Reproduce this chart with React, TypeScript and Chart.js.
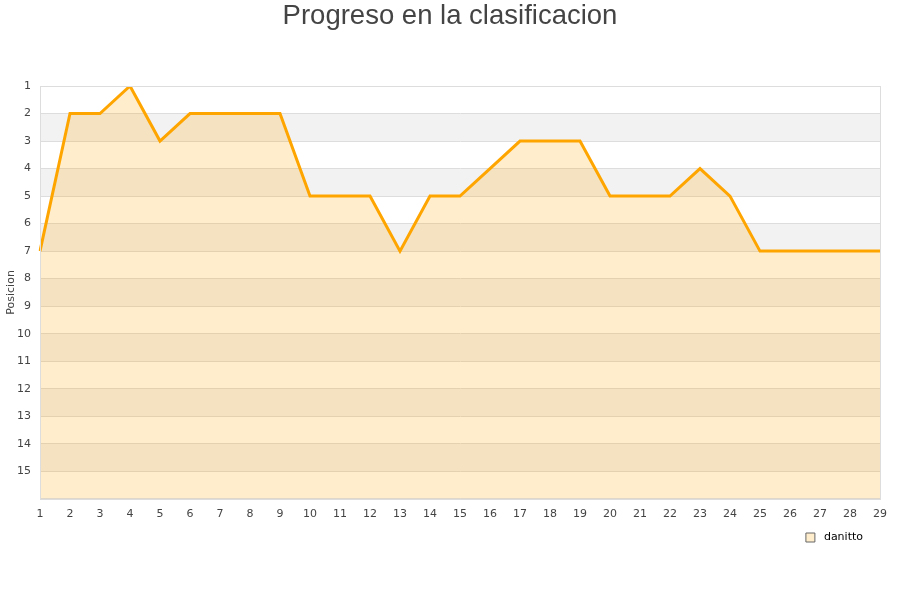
import React, { useEffect, useRef } from "react";
import { Chart, registerables } from "chart.js";

Chart.register(...registerables);

const titleText = "Progreso en la clasificacion";
const rounds = ["1","2","3","4","5","6","7","8","9","10","11","12","13","14","15","16","17","18","19","20","21","22","23","24","25","26","27","28","29"];
const positions = [7,2,2,1,3,2,2,2,2,5,5,5,7,5,5,4,3,3,3,5,5,5,4,5,7,7,7,7,7];
const seriesName = "danitto";
const yMin = 1;
const yMax = 16;
const bandStarts = [2,4,6,8,10,12,14];

const bandsPlugin = {
  id: "bands",
  beforeDraw(chart: any) {
    const { ctx, chartArea, scales } = chart;
    const y = scales.y;
    ctx.save();
    ctx.fillStyle = "#f2f2f2";
    for (const b of bandStarts) {
      const y1 = y.getPixelForValue(b);
      const y2 = y.getPixelForValue(b + 1);
      ctx.fillRect(chartArea.left, Math.min(y1, y2), chartArea.right - chartArea.left, Math.abs(y2 - y1));
    }
    ctx.restore();
  },
  afterDraw(chart: any) {
    const { ctx, chartArea } = chart;
    ctx.save();
    ctx.strokeStyle = "#dddddd";
    ctx.lineWidth = 1;
    ctx.strokeRect(Math.round(chartArea.left) + 0.5, Math.round(chartArea.top) + 0.5, Math.round(chartArea.right - chartArea.left), Math.round(chartArea.bottom - chartArea.top));
    ctx.fillStyle = "#444444";
    ctx.font = "27.5px 'Liberation Sans', Arial, sans-serif";
    ctx.textAlign = "center";
    ctx.textBaseline = "middle";
    ctx.fillText(titleText, chart.width / 2, 16);
    ctx.restore();
  },
};

export default function App() {
  const ref = useRef<HTMLCanvasElement>(null);
  useEffect(() => {
    if (!ref.current) return;
    const chart = new Chart(ref.current, {
      type: "line",
      data: {
        labels: rounds,
        datasets: [
          {
            label: seriesName,
            data: positions,
            borderColor: "#FFA500",
            backgroundColor: "rgba(255,165,0,0.2)",
            borderWidth: 3,
            pointRadius: 0,
            tension: 0,
            fill: { value: yMax },
          },
        ],
      },
      options: {
        animation: false,
        responsive: true,
        maintainAspectRatio: false,
        layout: { padding: { left: 0, right: 20, top: 86, bottom: 47 } },
        plugins: {
          title: { display: false },
          legend: {
            position: "bottom",
            align: "end",
            labels: {
              color: "#000000",
              boxWidth: 9,
              boxHeight: 9,
              padding: 10,
              font: { family: "'DejaVu Sans', sans-serif", size: 11 },
              generateLabels: () => [
                {
                  text: " " + seriesName + "  ",
                  fillStyle: "rgba(255,165,0,0.2)",
                  strokeStyle: "#666666",
                  lineWidth: 1,
                  datasetIndex: 0,
                  hidden: false,
                },
              ],
            },
          },
          tooltip: { enabled: false },
        },
        scales: {
          x: {
            offset: false,
            grid: { display: false },
            border: { display: true, color: "#dddddd" },
            ticks: {
              color: "#444444",
              maxRotation: 0,
              autoSkip: false,
              padding: 1,
              font: { family: "'DejaVu Sans', sans-serif", size: 11 },
            },
          },
          y: {
            reverse: true,
            min: yMin,
            max: yMax,
            grid: { color: "#dddddd", drawTicks: false },
            border: { display: true, color: "#dddddd" },
            afterFit: (scale: any) => {
              scale.width = 40;
            },
            title: {
              display: true,
              text: "Posicion",
              color: "#444444",
              font: { family: "'DejaVu Sans', sans-serif", size: 11 },
              padding: { top: 5, bottom: 2 },
            },
            ticks: {
              stepSize: 1,
              color: "#444444",
              padding: 9,
              font: { family: "'DejaVu Sans', sans-serif", size: 11 },
              callback: (v: any) => (v === yMax ? "" : String(v)),
            },
          },
        },
      },
      plugins: [bandsPlugin],
    });
    return () => chart.destroy();
  }, []);
  return (
    <div style={{ position: "fixed", left: 0, top: 0, width: 900, height: 600, background: "#fff" }}>
      <canvas ref={ref} />
    </div>
  );
}
